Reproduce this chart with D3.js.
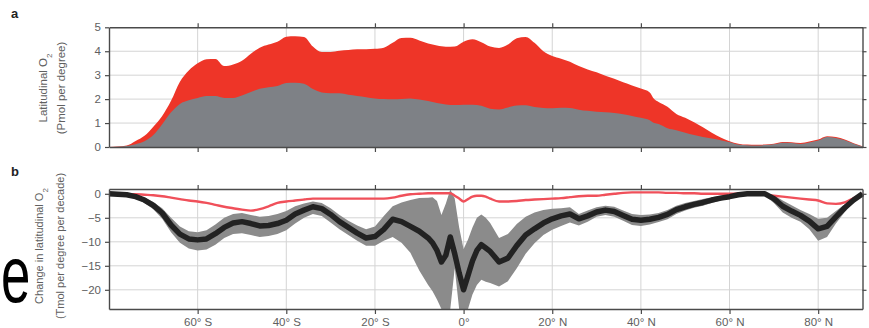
<!DOCTYPE html>
<html>
<head>
<meta charset="utf-8">
<script src="https://cdn.jsdelivr.net/npm/d3@7/dist/d3.min.js"></script>
<style>
  html, body { margin: 0; padding: 0; background: #fff; }
  svg { display: block; font-family: "Liberation Sans", Arial, Helvetica, sans-serif; }
</style>
</head>
<body>
<svg id="chart" width="869" height="328"></svg>
<script>
// ---------- Panel a data: latitudinal O2 inventory (Pmol per degree) ----------
const latA = [-80,-78,-76,-74,-72,-70,-68,-66,-64,-62,-60,-58,-56,-54,-52,-50,-48,-46,-44,-42,-40,-38,-36,-34,-32,-30,-28,-26,-24,-22,-20,-18,-16,-14,-12,-10,-8,-6,-4,-2,0,2,4,6,8,10,12,14,16,18,20,22,24,26,28,30,32,34,36,38,40,42,43,44,46,48,50,52,54,56,58,60,62,64,66,68,70,72,74,76,78,80,82,84,86,88,90];
const totalO2 = [0,0.02,0.06,0.25,0.47,0.85,1.3,1.93,2.73,3.2,3.5,3.67,3.68,3.38,3.45,3.6,3.9,4.15,4.28,4.4,4.61,4.63,4.6,4.2,3.97,3.97,4.02,4.05,4.08,4.08,4.1,4.15,4.35,4.55,4.56,4.45,4.32,4.24,4.19,4.2,4.4,4.5,4.38,4.2,4.14,4.28,4.54,4.6,4.35,4.0,3.8,3.69,3.56,3.38,3.24,3.12,2.98,2.85,2.7,2.57,2.44,2.28,2.0,1.88,1.68,1.38,1.22,1.03,0.82,0.6,0.4,0.24,0.14,0.1,0.09,0.1,0.14,0.21,0.2,0.17,0.23,0.31,0.45,0.42,0.31,0.16,0.03];
const grayO2  = [0,0.01,0.04,0.12,0.24,0.5,0.95,1.45,1.8,1.95,2.05,2.13,2.13,2.05,2.05,2.15,2.3,2.43,2.5,2.55,2.67,2.68,2.64,2.42,2.28,2.25,2.24,2.18,2.13,2.08,2.03,2.0,1.99,2.01,2.03,1.98,1.92,1.84,1.78,1.75,1.77,1.76,1.72,1.6,1.57,1.65,1.73,1.74,1.67,1.63,1.62,1.64,1.63,1.56,1.51,1.47,1.45,1.42,1.37,1.3,1.22,1.12,1.0,0.96,0.78,0.7,0.6,0.5,0.42,0.35,0.28,0.2,0.1,0.07,0.06,0.08,0.11,0.18,0.17,0.13,0.19,0.27,0.42,0.38,0.28,0.14,0.02];

// ---------- Panel b data: change in latitudinal O2 (Tmol per degree per decade) ----------
const latB = [-80,-78,-76,-74,-72,-70,-68,-66,-64,-62,-60,-58,-56,-54,-52,-50,-48,-46,-44,-42,-40,-38,-36,-34,-32,-30,-28,-26,-24,-22,-20,-18,-16,-14,-12,-10,-8,-7,-6,-5,-4,-3,-2,-1,0,1,2,3,4,5,6,8,10,12,14,16,18,20,22,24,26,28,30,32,34,36,38,40,42,44,46,48,50,52,54,56,58,60,62,64,66,68,70,72,74,76,78,80,82,84,86,88,90];
const meanChange = [0,-0.1,-0.2,-0.6,-1.3,-2.4,-4.0,-6.5,-8.4,-9.4,-9.6,-9.4,-8.3,-7.0,-6.1,-5.8,-6.2,-6.7,-6.6,-6.2,-5.5,-4.2,-3.4,-2.7,-3.1,-4.3,-5.8,-7.0,-8.2,-9.2,-8.9,-7.4,-5.3,-5.8,-6.8,-7.8,-9.2,-10.2,-11.8,-14.2,-12.8,-9.0,-12.5,-16.5,-20.0,-17.0,-14.0,-11.8,-10.6,-11.3,-12.0,-14.2,-13.4,-10.8,-8.6,-7.3,-6.1,-5.2,-4.6,-4.2,-5.2,-4.6,-3.8,-3.4,-3.7,-4.5,-5.3,-5.5,-5.3,-4.9,-4.3,-3.3,-2.7,-2.2,-1.8,-1.3,-0.9,-0.6,-0.2,0,0,0,-1.0,-2.6,-3.6,-4.5,-5.7,-7.3,-6.8,-4.8,-2.9,-1.3,0];
const upperChange = [0,0.1,0,-0.3,-0.8,-1.7,-3.0,-5.0,-6.8,-7.8,-8.0,-7.6,-6.4,-5.0,-4.2,-4.0,-4.4,-4.8,-4.6,-4.2,-3.6,-2.6,-2.0,-1.6,-1.9,-3.0,-4.4,-5.6,-6.6,-7.4,-6.8,-4.6,-2.6,-1.8,-1.3,-0.9,-0.8,-0.7,-1.5,-4.4,-2.0,0.9,-1.0,-7.0,-11.5,-9.5,-7.0,-5.0,-4.3,-5.0,-6.1,-9.2,-8.4,-6.3,-4.8,-3.9,-3.4,-3.1,-3.0,-2.8,-4.2,-3.5,-2.8,-2.5,-2.7,-3.5,-4.2,-4.4,-4.3,-4.0,-3.4,-2.5,-1.9,-1.5,-1.1,-0.7,-0.4,-0.2,0.1,0.2,0.2,0.1,-0.3,-1.4,-2.4,-3.4,-4.2,-5.2,-5.0,-3.6,-2.2,-0.9,0];
const lowerChange = [0,-0.3,-0.5,-1.0,-1.9,-3.2,-5.2,-8.0,-10.2,-11.4,-11.8,-11.6,-10.6,-9.2,-8.4,-8.2,-8.6,-9.0,-8.8,-8.4,-7.6,-6.2,-5.0,-4.2,-4.6,-6.0,-7.4,-8.6,-9.8,-10.8,-10.8,-9.8,-9.0,-10.2,-12.3,-16.0,-19.0,-20.3,-22.0,-24,-24,-24,-15.5,-24,-24,-24,-21.0,-19.0,-17.9,-18.3,-18.6,-19.3,-18.2,-15.5,-12.5,-10.3,-8.6,-7.5,-6.7,-6.0,-6.6,-5.8,-4.8,-4.4,-4.8,-5.6,-6.5,-6.7,-6.4,-5.9,-5.3,-4.2,-3.5,-2.9,-2.5,-1.9,-1.4,-1.0,-0.5,-0.2,-0.2,-0.4,-1.9,-3.9,-5.0,-5.8,-7.4,-9.8,-9.0,-6.2,-3.8,-1.8,0];
const redChange = [0,0,-0.1,-0.1,-0.2,-0.3,-0.5,-0.8,-1.1,-1.4,-1.6,-1.9,-2.3,-2.7,-3.0,-3.3,-3.5,-3.2,-2.6,-1.9,-1.6,-1.4,-1.2,-1.0,-1.0,-1.0,-1.0,-1.0,-1.0,-1.0,-1.0,-1.0,-0.8,-0.4,-0.1,0,0.1,0.1,0.1,0.1,0.1,0.1,-0.4,-1.0,-1.6,-1.1,-0.6,-0.4,-0.4,-0.6,-1.0,-1.6,-1.6,-1.5,-1.3,-1.2,-1.1,-1.0,-0.9,-0.7,-0.5,-0.4,-0.4,-0.2,0,0.2,0.3,0.3,0.3,0.3,0.2,0.2,0.1,0.1,0,0,0,0,0,0,0,-0.2,-0.4,-0.6,-0.8,-1.0,-1.2,-1.4,-2.0,-2.1,-1.8,-0.9,0];

// ---------- Tick labels ----------
const xTicks = [-60,-40,-20,0,20,40,60,80];
const xTickLabels = ["60° S","40° S","20° S","0°","20° N","40° N","60° N","80° N"];
const yTicksA = [0,1,2,3,4,5];
const yTicksB = [0,-5,-10,-15,-20];
const yTickLabelsB = ["0","\u22125","\u221210","\u221215","\u221220"];

// ---------- Drawing ----------
const svg = d3.select("#chart");
const left = 109, right = 862.5;
const x = d3.scaleLinear().domain([-80, 90]).range([left, right]);
const ya = d3.scaleLinear().domain([0, 5]).range([147, 27.3]);
const yb = d3.scaleLinear().domain([-24, 1]).range([309, 189]);

const axisColor = "#4a4a4a", gridColor = "#d4d4d4", textColor = "#606060";

function grid(g, yScale, yVals, yRange) {
  g.selectAll("line.h").data(yVals).join("line")
    .attr("x1", left).attr("x2", right)
    .attr("y1", d => yScale(d)).attr("y2", d => yScale(d))
    .attr("stroke", gridColor).attr("stroke-width", 1);
  g.selectAll("line.v").data(xTicks).join("line")
    .attr("x1", d => x(d)).attr("x2", d => x(d))
    .attr("y1", yRange[0]).attr("y2", yRange[1])
    .attr("stroke", gridColor).attr("stroke-width", 1);
}

function frame(yScale, yVals, yFmt, showX) {
  const [y0, y1] = yScale.range();
  const gl = svg.append("g").attr("transform", `translate(${left},0)`)
    .call(d3.axisLeft(yScale).tickValues(yVals).tickSize(4).tickSizeOuter(0).tickPadding(4).tickFormat(yFmt));
  const gr = svg.append("g").attr("transform", `translate(${right},0)`)
    .call(d3.axisRight(yScale).tickValues(yVals).tickSize(4).tickSizeOuter(0).tickFormat(""));
  const gt = svg.append("g").attr("transform", `translate(0,${y1})`)
    .call(d3.axisTop(x).tickValues(xTicks).tickSize(4).tickSizeOuter(0).tickFormat(""));
  const gb = svg.append("g").attr("transform", `translate(0,${y0})`)
    .call(d3.axisBottom(x).tickValues(xTicks).tickSize(5).tickSizeOuter(0).tickPadding(4)
      .tickFormat(showX ? ((d, i) => xTickLabels[i]) : ""));
  [gl, gr, gt, gb].forEach(g => {
    g.select(".domain").attr("stroke", axisColor).attr("stroke-width", 1.4);
    g.selectAll(".tick line").attr("stroke", axisColor).attr("stroke-width", 1.2);
    g.selectAll(".tick text").attr("fill", textColor).style("font-size", "11.5px")
      .style("font-family", "'Liberation Sans', Arial, sans-serif");
  });
}

// Panel a
const ga = svg.append("g");
grid(ga, ya, [1,2,3,4], [147, 27.3]);
const dataA = latA.map((d, i) => ({lat: d, tot: totalO2[i], gr: grayO2[i]}));
ga.append("path").datum(dataA)
  .attr("fill", "#ee3528")
  .attr("d", d3.area().x(d => x(d.lat)).y0(ya(0)).y1(d => ya(d.tot)).curve(d3.curveMonotoneX));
ga.append("path").datum(dataA)
  .attr("fill", "#7e8186")
  .attr("d", d3.area().x(d => x(d.lat)).y0(ya(0)).y1(d => ya(d.gr)).curve(d3.curveMonotoneX));
frame(ya, yTicksA, d => String(d), false);

// Panel b
const gb2 = svg.append("g");
grid(gb2, yb, [-5,-10,-15,-20], [309, 189]);
const dataB = latB.map((d, i) => ({lat: d, m: meanChange[i], u: upperChange[i], l: lowerChange[i], r: redChange[i]}));
gb2.append("path").datum(dataB)
  .attr("fill", "#8b8b8b")
  .attr("d", d3.area().x(d => x(d.lat)).y0(d => yb(d.l)).y1(d => yb(d.u)));
gb2.append("path").datum(dataB)
  .attr("fill", "none").attr("stroke", "#f0505a").attr("stroke-width", 2.4).attr("stroke-linejoin", "round")
  .attr("d", d3.line().x(d => x(d.lat)).y(d => yb(d.r)).curve(d3.curveMonotoneX));
gb2.append("path").datum(dataB)
  .attr("fill", "none").attr("stroke", "#222222").attr("stroke-width", 5.5).attr("stroke-linejoin", "round")
  .attr("d", d3.line().x(d => x(d.lat)).y(d => yb(d.m)));
frame(yb, yTicksB, (d, i) => yTickLabelsB[i], true);

// Panel letters
svg.append("text").attr("x", 11).attr("y", 18).text("a")
  .style("font-size", "13px").style("font-weight", "bold").attr("fill", "#222");
svg.append("text").attr("x", 11).attr("y", 176).text("b")
  .style("font-size", "13px").style("font-weight", "bold").attr("fill", "#222");

// Y titles
function ytitle(cx, cy, size, parts) {
  const t = svg.append("text").attr("transform", `translate(${cx},${cy}) rotate(-90)`)
    .attr("text-anchor", "middle").attr("fill", textColor).style("font-size", size + "px");
  parts.forEach(p => {
    const s = t.append("tspan").text(p[0]);
    if (p[1]) s.attr("baseline-shift", "sub").style("font-size", "8px");
  });
}
ytitle(47, 88, 11.5, [["Latitudinal O"], ["2", true]]);
ytitle(65, 88, 11.5, [["(Pmol per degree)"]]);
ytitle(43, 246, 11, [["Change in latitudinal O"], ["2", true]]);
ytitle(64, 246, 11, [["(Tmol per degree per decade)"]]);

// Stray large glyph at the left edge of the reference image
const sx = 0.66;
svg.append("g").attr("transform", `translate(0,302) scale(${sx},1)`)
  .append("text").attr("x", 1 / sx).attr("y", 0).text("e")
  .style("font-size", "80px").attr("fill", "#000");
</script>
</body>
</html>
